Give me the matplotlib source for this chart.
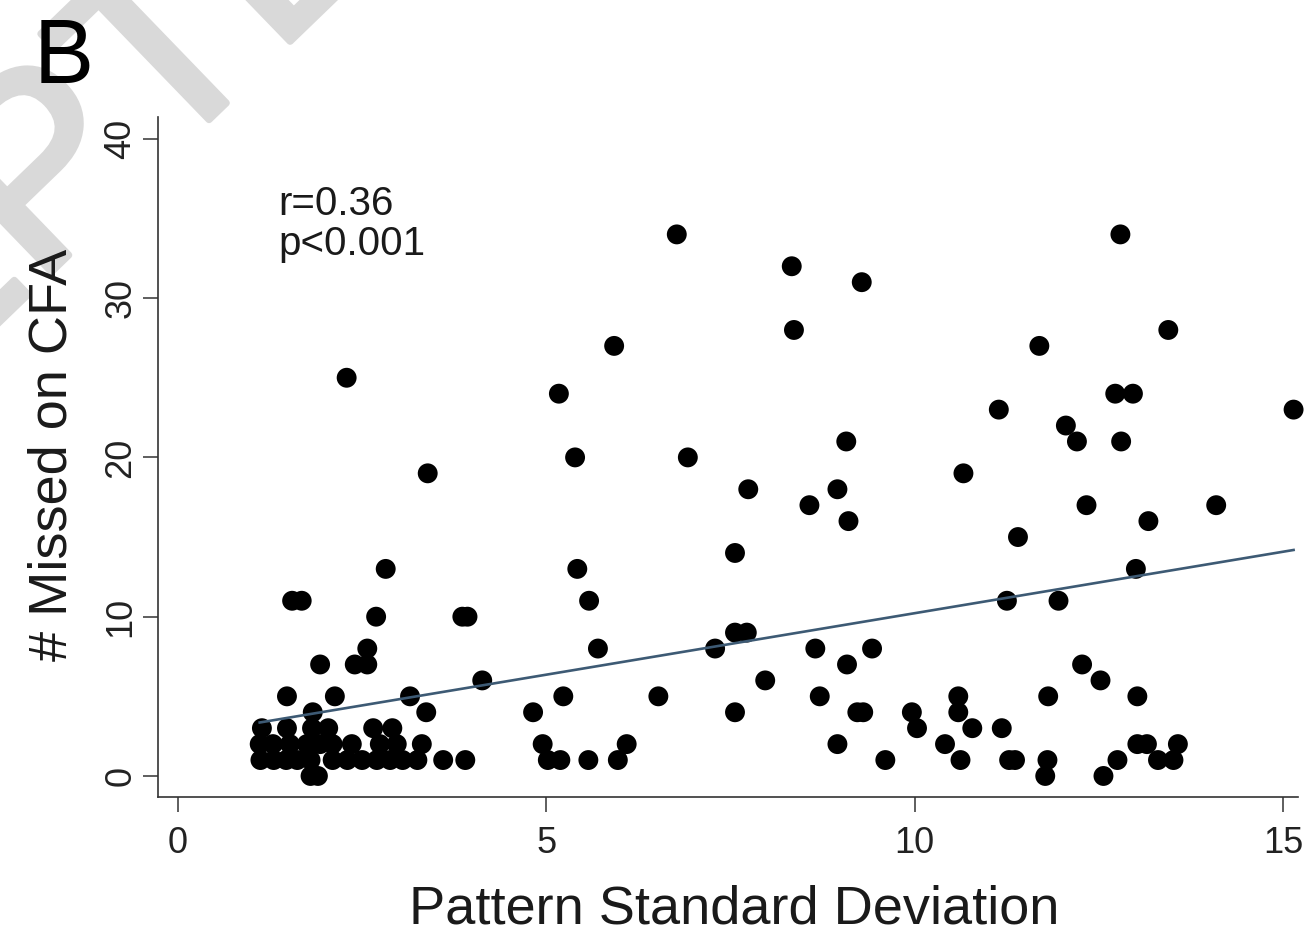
import matplotlib
matplotlib.use("Agg")
import matplotlib.pyplot as plt
import matplotlib.patheffects as pe
import numpy as np

plt.rcParams['font.family'] = ['Liberation Sans', 'DejaVu Sans']

# Data (Pattern Standard Deviation vs # Missed on CFA)
pattern_sd = [
    6.77, 12.79,
    8.33,
    9.28,
    8.36, 13.44,
    5.92, 11.69,
    2.29,
    5.17, 12.72, 12.96,
    11.14, 15.14,
    12.05,
    9.07, 12.20, 12.80,
    5.39, 6.92,
    3.39, 10.66,
    7.74, 8.95,
    8.57, 12.33, 14.09,
    9.10, 13.17,
    11.40,
    7.56,
    2.82, 5.42, 13.00,
    1.55, 1.68, 5.58, 11.25, 11.95,
    2.69, 3.86, 3.93,
    7.56, 7.72,
    2.57, 5.70, 7.29, 8.65, 9.42,
    1.93, 2.40, 2.57, 9.08, 12.27,
    4.13, 7.97, 12.52,
    1.48, 2.13, 3.15, 5.23, 6.52, 8.71, 10.59, 11.81, 13.02,
    1.83, 3.37, 4.82, 7.56, 9.22, 9.30, 9.96, 10.59,
    1.14, 1.48, 1.82, 2.04, 2.65, 2.91, 10.03, 10.78, 11.18,
    1.11, 1.29, 1.52, 1.75, 1.93, 2.10, 2.36, 2.74, 2.97, 3.31, 4.95, 6.09,
    8.95, 10.41, 13.02, 13.15, 13.57,
    1.12, 1.30, 1.47, 1.62, 1.80, 2.10, 2.30, 2.50, 2.70, 2.88, 3.05, 3.25,
    3.60, 3.90, 5.02, 5.19, 5.57, 5.97, 9.60, 10.62, 11.28, 11.36, 11.80,
    12.75, 13.30, 13.51,
    1.80, 1.90, 11.77, 12.56,
]
missed_cfa = [
    34, 34,
    32,
    31,
    28, 28,
    27, 27,
    25,
    24, 24, 24,
    23, 23,
    22,
    21, 21, 21,
    20, 20,
    19, 19,
    18, 18,
    17, 17, 17,
    16, 16,
    15,
    14,
    13, 13, 13,
    11, 11, 11, 11, 11,
    10, 10, 10,
    9, 9,
    8, 8, 8, 8, 8,
    7, 7, 7, 7, 7,
    6, 6, 6,
    5, 5, 5, 5, 5, 5, 5, 5, 5,
    4, 4, 4, 4, 4, 4, 4, 4,
    3, 3, 3, 3, 3, 3, 3, 3, 3,
    2, 2, 2, 2, 2, 2, 2, 2, 2, 2, 2, 2,
    2, 2, 2, 2, 2,
    1, 1, 1, 1, 1, 1, 1, 1, 1, 1, 1, 1,
    1, 1, 1, 1, 1, 1, 1, 1, 1, 1, 1,
    1, 1, 1,
    0, 0, 0, 0,
]

# Linear fit shown on the chart
fit_intercept = 2.50
fit_slope = 0.772

x_ticks = [0, 5, 10, 15]
y_ticks = [0, 10, 20, 30, 40]
x_label = "Pattern Standard Deviation"
y_label = "# Missed on CFA"
stats_lines = ["r=0.36", "p<0.001"]
panel_label = "B"
watermark = "ACCEPTED MANUSCRIPT"

W, H = 1315, 935
fig = plt.figure(figsize=(W / 100, H / 100), dpi=100)

# light diagonal watermark behind the figure
wm_color = '#d9d9d9'
fig.text(-483 / W, 1 - 788 / H, watermark, ha='left', va='baseline',
         rotation=44, rotation_mode='anchor', fontsize=187, color=wm_color,
         zorder=0,
         path_effects=[pe.Stroke(linewidth=5, foreground=wm_color), pe.Normal()])

ax = fig.add_axes([158 / W, 1 - 797 / H, (1298 - 158) / W, (797 - 117) / H])
ax.patch.set_alpha(0)
ax.set_zorder(1)

ax.scatter(pattern_sd, missed_cfa, s=205, color='black', edgecolors='none',
           zorder=3, clip_on=False)

xs = np.array([min(pattern_sd), max(pattern_sd)])
ax.plot(xs, fit_intercept + fit_slope * xs, color='#3d5a74', lw=1.9, zorder=4)

ax.set_xlim(-0.27, 15.2)
ax.set_ylim(-1.32, 41.37)
ax.set_xticks(x_ticks)
ax.set_yticks(y_ticks)
ax.set_xticklabels([str(t) for t in x_ticks])
ax.set_yticklabels([str(t) for t in y_ticks], rotation=90, va='center')

for s in ['top', 'right']:
    ax.spines[s].set_visible(False)
for s in ['left', 'bottom']:
    ax.spines[s].set_linewidth(1.2)
    ax.spines[s].set_color('#333333')
ax.tick_params(axis='both', length=11, width=1.1, color='#333333',
               labelsize=26, labelcolor='#222222')
ax.tick_params(axis='x', pad=10)
ax.tick_params(axis='y', pad=3)

fig.text(734 / W, 1 - 923 / H, x_label, ha='center', va='baseline',
         fontsize=39, color='#1a1a1a', zorder=2)
fig.text(67 / W, 1 - 455 / H, y_label, ha='center', va='baseline',
         rotation=90, rotation_mode='anchor', fontsize=39, color='#1a1a1a',
         zorder=2)

fig.text(278 / W, 1 - 215 / H, stats_lines[0], ha='left', va='baseline',
         fontsize=29, color='#1a1a1a', zorder=2)
fig.text(278 / W, 1 - 255 / H, stats_lines[1], ha='left', va='baseline',
         fontsize=29, color='#1a1a1a', zorder=2)

fig.text(34 / W, 1 - 83 / H, panel_label, ha='left', va='baseline',
         fontsize=65, color='black', zorder=2)

fig.savefig('out.png', dpi=100)
